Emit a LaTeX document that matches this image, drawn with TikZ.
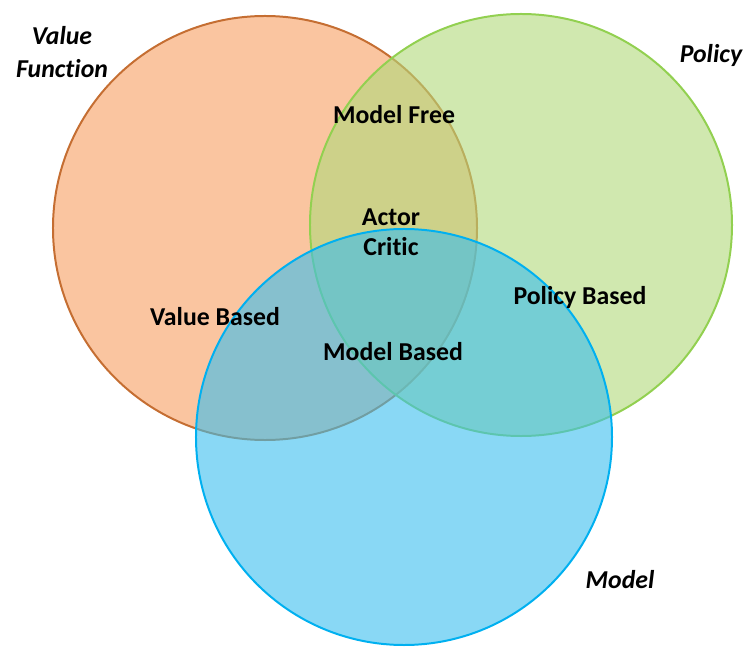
\documentclass[tikz,border=0pt]{standalone}
\usepackage{fontspec}
\setmainfont[Ligatures=NoCommon]{Carlito}
\usetikzlibrary{positioning}
\definecolor{valfill}{RGB}{247,158,97}
\definecolor{valline}{RGB}{197,110,50}
\definecolor{polfill}{RGB}{177,217,122}
\definecolor{polline}{RGB}{146,208,80}
\definecolor{modfill}{RGB}{58,190,238}
\definecolor{modline}{RGB}{0,176,240}
\tikzset{
    set/.style = {draw, circle, inner sep=0pt, line width=1.7pt, fill opacity=0.6},
    tag/.style = {font=\fontsize{22}{26}\selectfont\bfseries, align=center},
    title/.style = {font=\fontsize{22}{28}\selectfont\bfseries\itshape, align=center}
}

\begin{document}
\begin{tikzpicture}[x=0.03cm, y=-0.03cm]
    \useasboundingbox (0,0) rectangle (745,651);
    % Conjuntos
    \node [set, fill=valfill, draw=valline, minimum size=12.72cm] (value) at (265,228) {};
    \node [set, fill=polfill, draw=polline, minimum size=12.66cm] (policy) at (521,225) {};
    \node [set, fill=modfill, draw=modline, minimum size=12.48cm] (model) at (404,437) {};

    % Titulos
    \node [title] (valuetitle) at (62,52) {Value\\Function};
    \node [title] (policytitle) at (711,55) {Policy};
    \node [title] (modeltitle) at (620,580) {Model};

    % Regiones
    \node [tag] (free) at (394,115) {Model Free};
    \node [tag] (actor) at (391,232) {Actor\\Critic};
    \node [tag] (valuebased) at (215,317) {Value Based};
    \node [tag] (policybased) at (580,297) {Policy Based};
    \node [tag] (modelbased) at (393,352) {Model Based};
\end{tikzpicture}
\end{document}
